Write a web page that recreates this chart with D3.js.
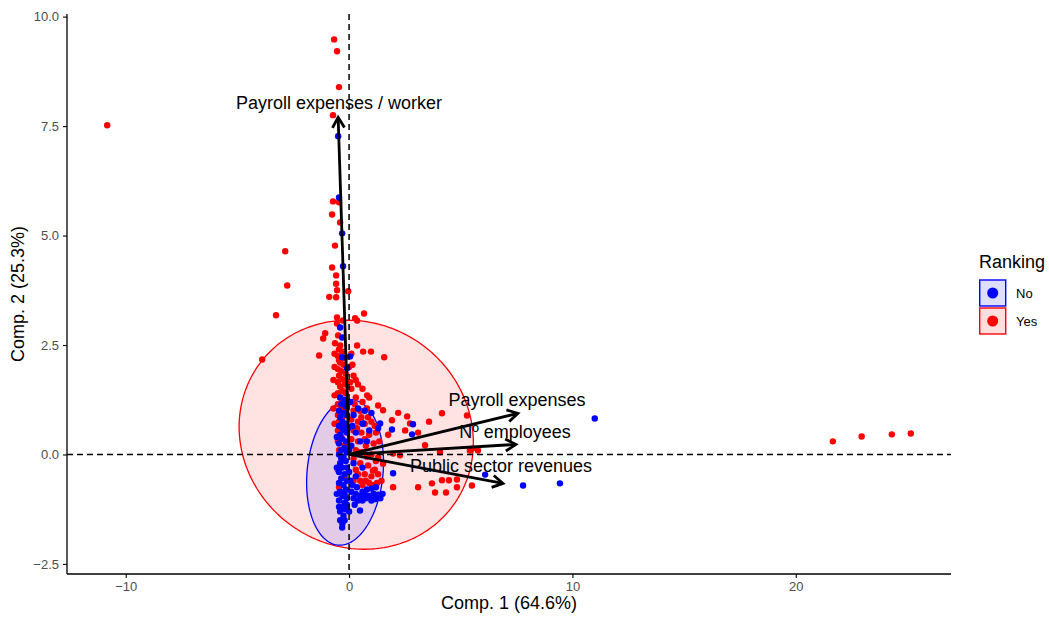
<!DOCTYPE html>
<html>
<head>
<meta charset="utf-8">
<script src="https://cdn.jsdelivr.net/npm/d3@7/dist/d3.min.js"></script>
<style>
body { margin: 0; background: #fff; }
text { font-family: "Liberation Sans", Arial, sans-serif; }
</style>
</head>
<body>
<script>
//Declare data
var groupNames = ["No", "Yes"];
var groupColors = ["#0000ff", "#ff0000"];

//points of group "No" (Comp. 1, Comp. 2)
var noPoints = [
	[-0.49,7.27],[-0.45,5.87],[-0.31,5.05],[-0.27,4.30],[-0.40,2.90],[-0.31,2.67],[0.04,2.24],[-0.31,2.22],[-0.09,1.97],
	[-0.4,1.3],[-0.2,1.25],[-0.35,1.15],[-0.15,1.1],[-0.45,1.0],[-0.25,0.95],[-0.1,0.9],[-0.4,0.85],[-0.3,0.75],
	[-0.15,0.7],[-0.45,0.65],[-0.25,0.55],[-0.1,0.5],[-0.4,0.45],[-0.3,0.35],[-0.15,0.3],[-0.45,0.25],[-0.2,0.15],
	[-0.35,0.1],[-0.1,0.05],[-0.45,0.0],[-0.25,-0.05],[-0.15,-0.15],[-0.4,-0.2],[-0.3,-0.3],[-0.1,-0.3],[-0.45,-0.4],
	[-0.2,-0.45],[-0.35,-0.55],[-0.1,-0.6],[-0.45,-0.65],[-0.25,-0.7],[-0.15,-0.8],[-0.4,-0.85],[-0.3,-0.95],
	[-0.1,-1.0],[-0.45,-1.05],[-0.2,-1.1],[-0.35,-1.2],[-0.15,-1.25],[-0.4,-1.3],[-0.25,-1.4],[-0.4,-1.5],
	[-0.3,-1.58],[-0.31,-1.67],[-0.2,-1.5],[-0.45,-1.2],[-0.1,-1.15],[-0.3,0.6],[-0.2,-0.9],[-0.35,-0.1],
	[-0.55,-0.3],[-0.55,-0.9],[-0.55,0.4],[0.0,-0.4],[0.0,0.1],[0.0,-1.3],[-0.05,0.6],
	[0.1,-0.85],[0.3,-0.9],[0.5,-0.95],[0.7,-0.9],[0.9,-0.95],[1.1,-0.9],[1.3,-0.92],[1.4,-1.0],[0.2,-1.0],
	[0.6,-1.05],[0.35,-0.75],[0.8,-0.8],[0.49,-1.28],[1.2,-0.75],[0.05,-0.6],[1.0,-1.05],
	[0.15,-0.7],[0.4,-1.05],[0.75,-1.0],[1.15,-1.02],[1.5,-0.9],[0.6,-0.85],[1.0,-0.78],[0.25,-1.15],
	[0.2,0.9],[0.6,0.7],[0.3,0.5],[0.9,0.55],[0.1,0.2],[0.5,0.3],[0.2,-0.2],[0.6,-0.3],[0.3,-0.5],[1.0,0.95],
	[0.8,0.3],[1.3,0.6],[0.05,1.2],[0.4,1.05],[0.15,0.65],[0.7,1.0],
	[2.86,0.69],[2.82,0.46],[1.92,0.57],[1.97,-0.43],[0.63,0.71],[1.39,0.71],
	[6.09,-0.46],[7.79,-0.71],[9.44,-0.66],[11.0,0.82]
];

//points of group "Yes" (Comp. 1, Comp. 2)
var yesPoints = [
	[-10.83,7.52],[-0.67,9.48],[-0.54,9.21],[-0.45,8.39],[-0.72,7.75],[-2.86,4.64],[-2.77,3.86],[-3.27,3.18],[-3.89,2.17],
	[21.66,0.30],[22.95,0.41],[24.30,0.46],[25.15,0.48],
	[-0.72,5.78],[-0.76,5.48],[-0.45,5.76],[-0.40,5.30],[-0.63,4.77],[-0.76,4.27],[-0.58,4.09],[-0.58,3.90],[-0.54,3.75],
	[-0.89,3.60],[-0.58,3.59],[-0.04,3.73],[0.67,3.22],[-0.54,3.13],[0.27,3.11],[0.36,3.06],[-0.54,2.99],[-0.27,3.06],
	[-1.07,2.77],[-1.16,2.65],[-0.49,2.72],[-0.63,2.54],[-0.40,2.49],[0.36,2.49],[0.63,2.35],[0.98,2.35],[1.57,2.22],
	[-1.34,2.26],[-0.45,2.15],
	[-0.45,2.4],[-0.3,2.35],[-0.5,2.25],[-0.2,2.2],[-0.4,2.1],[-0.25,2.05],[-0.5,1.95],[-0.35,1.9],[-0.15,1.85],
	[-0.45,1.8],[-0.3,1.72],[-0.5,1.65],[-0.2,1.6],[-0.4,1.55],[-0.3,1.45],[-0.5,1.4],[-0.15,1.4],[-0.4,1.3],
	[-0.25,1.2],[-0.5,1.15],[-0.35,1.05],[-0.15,1.0],[-0.5,0.9],[-0.3,0.85],[-0.45,0.75],[-0.2,0.6],[-0.5,0.55],
	[-0.35,0.4],[-0.5,0.3],[-0.2,0.2],[-0.45,0.1],[-0.3,-0.1],[-0.5,-0.35],[-0.2,-0.5],[-0.45,-0.75],
	[-0.65,2.0],[-0.7,1.7],[-0.65,1.35],[-0.7,1.05],[-0.65,0.7],[-0.65,2.3],[0.1,2.3],[0.15,2.05],
	[0.0,2.0],[0.2,1.8],[0.4,1.6],[0.1,1.5],[0.3,1.3],[0.6,1.2],[0.0,1.2],[0.5,1.0],[0.2,1.0],[0.8,1.05],
	[0.1,0.8],[0.4,0.75],[0.7,0.7],[1.0,0.75],[0.2,0.55],[0.55,0.5],[0.9,0.45],[1.2,0.5],[0.1,0.35],[0.4,0.3],
	[0.75,0.2],[1.1,0.25],[0.3,0.1],[0.6,0.05],[1.0,0.0],[0.2,-0.1],[0.5,-0.2],[0.85,-0.25],[1.2,-0.15],
	[0.3,-0.35],[0.7,-0.45],[1.0,-0.5],[1.3,-0.45],[0.5,-0.6],[0.9,-0.65],[1.25,-0.65],[0.2,-0.6],[0.6,-0.7],
	[0.3,1.7],[0.6,1.5],[0.9,1.3],[0.25,1.15],[0.55,0.85],[0.85,0.85],[1.15,0.65],[0.35,0.6],[0.7,0.35],
	[1.35,0.3],[0.45,0.05],[0.8,-0.05],[1.15,-0.35],[0.4,-0.45],[0.75,-0.6],[1.1,-0.7],[1.45,-0.6],[0.05,1.65],
	[0.81,1.35],[1.30,1.12],[1.52,1.01],[1.92,0.78],[2.60,0.87],[2.73,0.71],[3.09,0.50],[2.51,0.55],[3.58,0.75],
	[4.16,0.94],[5.28,0.89],[3.40,0.21],[4.07,0.05],[5.41,0.09],[5.77,0.09],[5.55,0.14],[1.97,0.02],[2.28,-0.02],
	[1.97,-0.75],[3.09,-0.75],[3.71,-0.66],[4.16,-0.59],[4.47,-0.59],[4.83,-0.57],[5.50,-0.71],[3.85,-0.87],
	[4.34,-0.87],[4.83,-0.75],[1.30,-0.07],[1.52,-0.21],[1.07,-0.37],[2.2,0.95],[1.75,0.45]
];

//ellipses: center and two semi-axis vectors, [No, Yes]
var ellipseCenters = [[-0.18, -0.41], [0.32, 0.45]];
var ellipseAxisU = [[0.33, 1.66], [5.24, -0.28]];
var ellipseAxisV = [[1.69, -0.09], [0.2, 2.6]];

//loading arrows
var arrowNames = ["Payroll expenses / worker", "Payroll expenses", "N\u00ba employees", "Public sector revenues"];
var arrowX = [-0.49, 7.56, 7.47, 6.89];
var arrowY = [7.70, 0.94, 0.23, -0.66];
var labelX = [-0.45, 7.52, 7.43, 6.80];
var labelY = [8.04, 1.26, 0.53, -0.25];

//tick labels
var xTicks = [-10, 0, 10, 20];
var yTicks = [-2.5, 0, 2.5, 5, 7.5, 10];
var xTitle = "Comp. 1 (64.6%)";
var yTitle = "Comp. 2 (25.3%)";
var legendTitle = "Ranking";

//setup svg
var svg = d3.select("body").append("svg")
	.attr("width", 1049)
	.attr("height", 619);

var xScale = d3.scaleLinear().domain([-12.63, 26.95]).range([67, 951]);
var yScale = d3.scaleLinear().domain([-2.73, 10.06]).range([574, 14]);

//ellipses
var ellipseLine = d3.line()
	.x(function(d) { return xScale(d[0]); })
	.y(function(d) { return yScale(d[1]); })
	.curve(d3.curveLinearClosed);

function ellipsePoints(i) {
	return d3.range(0, 2 * Math.PI, Math.PI / 90).map(function(t) {
		return [ellipseCenters[i][0] + ellipseAxisU[i][0] * Math.cos(t) + ellipseAxisV[i][0] * Math.sin(t),
			ellipseCenters[i][1] + ellipseAxisU[i][1] * Math.cos(t) + ellipseAxisV[i][1] * Math.sin(t)];
	});
}

//draw Yes first so No ellipse sits on top
[1, 0].forEach(function(i) {
	svg.append("path")
		.attr("d", ellipseLine(ellipsePoints(i)))
		.attr("fill", groupColors[i])
		.attr("fill-opacity", 0.11)
		.attr("stroke", groupColors[i])
		.attr("stroke-width", 1.3);
});

//points
function drawPoints(points, color) {
	svg.append("g").selectAll("circle").data(points).enter()
		.append("circle")
		.attr("cx", function(d) { return xScale(d[0]); })
		.attr("cy", function(d) { return yScale(d[1]); })
		.attr("r", 3.2)
		.attr("fill", color);
}
drawPoints(yesPoints, groupColors[1]);
drawPoints(noPoints, groupColors[0]);

//dashed reference lines
svg.append("line")
	.attr("x1", xScale(0)).attr("x2", xScale(0))
	.attr("y1", yScale.range()[1]).attr("y2", yScale.range()[0])
	.attr("stroke", "#000").attr("stroke-width", 1.5).attr("stroke-dasharray", "6,4");
svg.append("line")
	.attr("x1", xScale.range()[0]).attr("x2", xScale.range()[1])
	.attr("y1", yScale(0)).attr("y2", yScale(0))
	.attr("stroke", "#000").attr("stroke-width", 1.5).attr("stroke-dasharray", "6,4");

//arrows
var arrows = svg.append("g");
for (var i = 0; i < arrowNames.length; i++) {
	var x0 = xScale(0), y0 = yScale(0);
	var x1 = xScale(arrowX[i]), y1 = yScale(arrowY[i]);
	var ang = Math.atan2(y1 - y0, x1 - x0);
	var headLen = 12, headAng = Math.PI / 6;
	arrows.append("line")
		.attr("x1", x0).attr("y1", y0).attr("x2", x1).attr("y2", y1)
		.attr("stroke", "#000").attr("stroke-width", 2.8);
	arrows.append("path")
		.attr("d", "M" + (x1 - headLen * Math.cos(ang - headAng)) + "," + (y1 - headLen * Math.sin(ang - headAng)) +
			"L" + x1 + "," + y1 +
			"L" + (x1 - headLen * Math.cos(ang + headAng)) + "," + (y1 - headLen * Math.sin(ang + headAng)))
		.attr("fill", "none")
		.attr("stroke", "#000")
		.attr("stroke-width", 2.8)
		.attr("stroke-linejoin", "miter");
	arrows.append("text")
		.attr("x", xScale(labelX[i]))
		.attr("y", yScale(labelY[i]))
		.attr("dy", "0.35em")
		.attr("text-anchor", "middle")
		.attr("font-size", 18)
		.attr("fill", "#000")
		.text(arrowNames[i]);
}

//axes
var xAxis = svg.append("g")
	.attr("transform", "translate(0, 574)")
	.call(d3.axisBottom(xScale).tickValues(xTicks).tickSize(4).tickPadding(4).tickFormat(d3.format("d")));
var yAxis = svg.append("g")
	.attr("transform", "translate(67, 0)")
	.call(d3.axisLeft(yScale).tickValues(yTicks).tickSize(4).tickPadding(4).tickFormat(d3.format(".1f")));
[xAxis, yAxis].forEach(function(ax) {
	ax.select(".domain").attr("stroke", "#000").attr("stroke-width", 1.3);
	ax.selectAll(".tick line").attr("stroke", "#000").attr("stroke-width", 1.1);
	ax.selectAll(".tick text")
		.attr("fill", "#4d4d4d")
		.attr("font-size", 13)
		.style("font-family", "Liberation Sans, Arial, sans-serif");
});
xAxis.select(".domain").attr("d", "M67,0H951");
yAxis.select(".domain").attr("d", "M0,14V574");

//axis titles
svg.append("text")
	.attr("x", 509).attr("y", 609)
	.attr("text-anchor", "middle")
	.attr("font-size", 18)
	.text(xTitle);
svg.append("text")
	.attr("transform", "translate(24, 294) rotate(-90)")
	.attr("text-anchor", "middle")
	.attr("font-size", 18)
	.text(yTitle);

//legend
var legend = svg.append("g").attr("transform", "translate(979, 0)");
legend.append("text")
	.attr("x", 0).attr("y", 268)
	.attr("font-size", 18)
	.text(legendTitle);
groupNames.forEach(function(name, i) {
	var top = 280 + i * 28;
	legend.append("rect")
		.attr("x", 0.7).attr("y", top)
		.attr("width", 26).attr("height", 26)
		.attr("fill", "#fff");
	legend.append("rect")
		.attr("x", 0.7).attr("y", top)
		.attr("width", 26).attr("height", 26)
		.attr("fill", groupColors[i])
		.attr("fill-opacity", 0.13)
		.attr("stroke", groupColors[i])
		.attr("stroke-width", 1.4);
	legend.append("circle")
		.attr("cx", 13.7).attr("cy", top + 13)
		.attr("r", 5.5)
		.attr("fill", groupColors[i]);
	legend.append("text")
		.attr("x", 37).attr("y", top + 18)
		.attr("font-size", 13)
		.text(name);
});
</script>
</body>
</html>
